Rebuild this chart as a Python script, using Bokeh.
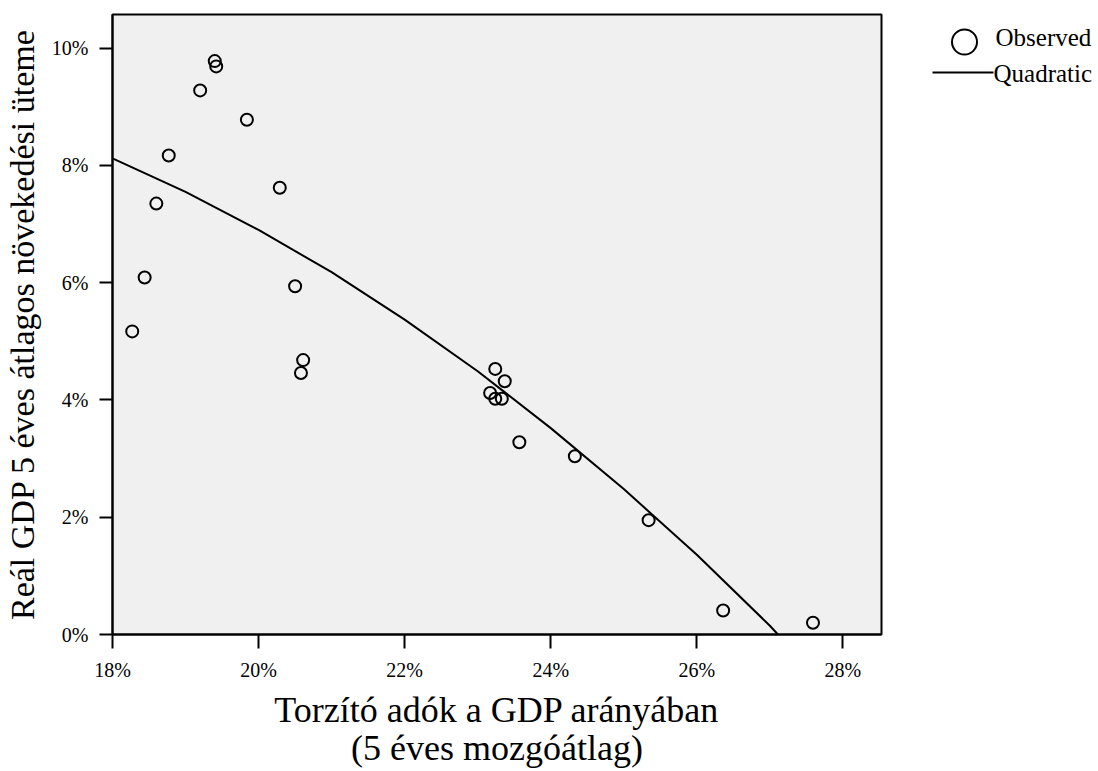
from bokeh.plotting import figure
from bokeh.layouts import row
from bokeh.models import Range1d, FixedTicker, PrintfTickFormatter
from bokeh.core.properties import value
from bokeh.embed import file_html
from bokeh.resources import INLINE

# ---- data ----
tax_share = [18.27, 18.44, 18.60, 18.77, 19.20, 19.40, 19.42, 19.84, 20.29, 20.50,
             20.61, 20.58, 23.24, 23.37, 23.17, 23.24, 23.33, 23.57, 24.33, 25.34,
             26.36, 27.59]
gdp_growth = [5.17, 6.09, 7.35, 8.17, 9.28, 9.78, 9.69, 8.78, 7.62, 5.94,
              4.68, 4.46, 4.53, 4.32, 4.12, 4.02, 4.02, 3.28, 3.04, 1.95,
              0.41, 0.20]
# quadratic fit line
fit_x = [18.0, 19.0, 20.0, 21.0, 22.0, 23.0, 24.0, 25.0, 26.0, 27.0, 27.11]
fit_y = [8.12, 7.55, 6.90, 6.18, 5.37, 4.49, 3.52, 2.48, 1.36, 0.15, 0.0]

x_ticks = [18, 20, 22, 24, 26, 28]
y_ticks = [0, 2, 4, 6, 8, 10]
x_title = "Torzító adók a GDP arányában\n(5 éves mozgóátlag)"
y_title = "Reál GDP 5 éves átlagos növekedési üteme"
legend_labels = ["Observed", "Quadratic"]

FONT = "Liberation Serif"
MAIN_W, LEG_W, H = 900, 198, 771
TOP, BOTTOM = 14, 137

p = figure(width=MAIN_W, height=H, output_backend="svg", toolbar_location=None,
           x_range=Range1d(18, 28.528), y_range=Range1d(0, 10.575),
           min_border_left=110, min_border_right=19, min_border_top=TOP,
           min_border_bottom=BOTTOM)
p.background_fill_color = "#f0f0f0"
p.border_fill_color = "white"
p.outline_line_color = "black"
p.outline_line_width = 2
p.grid.visible = False

for ax in (p.xaxis[0], p.yaxis[0]):
    ax.axis_line_color = "black"
    ax.axis_line_width = 2
    ax.major_tick_line_color = "black"
    ax.major_tick_line_width = 2
    ax.major_tick_in = 0
    ax.minor_tick_line_color = None
    ax.major_label_text_font = FONT
    ax.major_label_text_font_size = "20px"
    ax.major_label_text_color = "black"
    ax.axis_label_text_font = FONT
    ax.axis_label_text_font_style = "normal"
    ax.axis_label_text_color = "black"
    ax.formatter = PrintfTickFormatter(format="%d%%")

p.xaxis.ticker = FixedTicker(ticks=x_ticks)
p.yaxis.ticker = FixedTicker(ticks=y_ticks)
p.xaxis.major_tick_out = 14
p.yaxis.major_tick_out = 13
p.xaxis.major_label_standoff = 10
p.yaxis.major_label_standoff = 11
p.xaxis.axis_label = x_title
p.yaxis.axis_label = y_title
p.xaxis.axis_label_text_font_size = "36px"
p.yaxis.axis_label_text_font_size = "34px"
p.xaxis.axis_label_text_line_height = 0.95
p.xaxis.axis_label_standoff = 6
p.yaxis.axis_label_standoff = 8

p.line(fit_x, fit_y, line_color="black", line_width=2)
p.scatter(tax_share, gdp_growth, marker="circle", size=12,
          fill_color=None, line_color="black", line_width=2)

# ---- legend panel to the right of the plot (page-pixel coordinates) ----
lg = figure(width=LEG_W, height=H, output_backend="svg", toolbar_location=None,
            x_range=Range1d(MAIN_W, MAIN_W + LEG_W), y_range=Range1d(H - BOTTOM, TOP),
            x_axis_location=None, y_axis_location=None,
            min_border_left=0, min_border_right=0,
            min_border_top=TOP, min_border_bottom=BOTTOM)
lg.outline_line_color = None
lg.grid.visible = False
lg.background_fill_color = "white"
lg.border_fill_color = "white"

row1_y, row2_y = 41.5, 72.0
lg.scatter([964], [row1_y], marker="circle", size=25, fill_color=None,
           line_color="black", line_width=2)
lg.line([932, 993], [row2_y, row2_y], line_color="black", line_width=2)
lg.text(x=[995, 993], y=[37, 73], text=legend_labels,
        text_font=value(FONT), text_font_size="25px", text_color="black",
        text_baseline="alphabetic", text_align="left", text_line_height=1.0)

layout = row(p, lg, spacing=0)
open("out.html", "w").write(file_html(layout, INLINE))
